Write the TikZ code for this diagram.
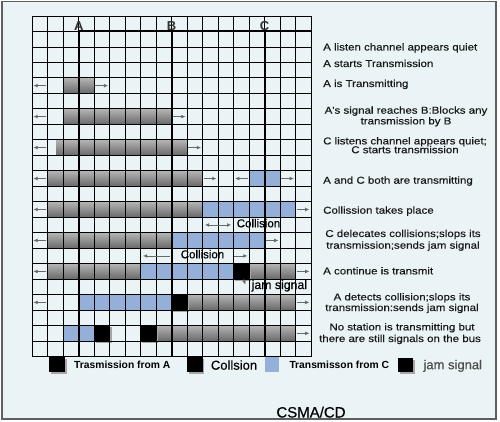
\documentclass[tikz,border=0pt]{standalone}
\usepackage{fontspec}
\setmainfont{Liberation Sans}
\newfontfamily\stretchfont{Liberation Sans}[FakeStretch=1.15,FakeBold=0.35]
\newfontfamily\heavyfont{Liberation Sans}[FakeBold=0.35]
\usetikzlibrary{arrows.meta}
\definecolor{bgc}{RGB}{234,243,246}
\definecolor{blu}{RGB}{148,176,217}
\definecolor{arr}{RGB}{105,105,105}
\definecolor{framec}{RGB}{95,95,95}
\definecolor{gtop}{RGB}{180,180,180}
\definecolor{gbot}{RGB}{105,105,105}
\tikzset{
  cellline/.style={black, line width=0.85pt},
  busline/.style={black, line width=2pt},
  graybar/.style={top color=gtop, bottom color=gbot, draw=none},
  bluebar/.style={fill=blu, draw=white, line width=0.8pt},
  jambox/.style={fill=black},
  jamshadow/.style={fill=black!35, draw=none},
  sarrow/.style={arr, line width=0.75pt, -{Latex[length=4.2pt,width=3.8pt]}},
  darrow/.style={arr, line width=0.75pt, {Latex[length=4.2pt,width=3.8pt]}-{Latex[length=4.2pt,width=3.8pt]}},
  desc/.style={font=\stretchfont\fontsize{10}{12}\selectfont, inner sep=0pt, anchor=base west, text=black!90},
  descc/.style={desc, anchor=base},
  station/.style={font=\bfseries\fontsize{13}{13}\selectfont, inner sep=0pt, anchor=base, text=black!80},
  collab/.style={font=\heavyfont\fontsize{11.5}{12}\selectfont, inner sep=0pt, anchor=base},
  legbold/.style={font=\bfseries\fontsize{10.3}{12}\selectfont, inner sep=0pt, anchor=base west},
  legreg/.style={font=\heavyfont\fontsize{13}{14}\selectfont, inner sep=0pt, anchor=base west},
}
\begin{document}
\begin{tikzpicture}[x=1pt, y=-1pt]
\useasboundingbox (0,0) rectangle (500,422);
\fill[white] (0,0) rectangle (500,422);
\draw[framec, line width=1.3pt, fill=bgc] (2,1.5) rectangle (496,419);

\begin{scope}[shift={(32.3pt,-16pt)}, x=15.48pt, y=-15.48pt]
  % bars
  \shade[graybar] (2,4) rectangle (4,5);
  \shade[graybar] (2,6) rectangle (9,7);
  \shade[graybar] (1.55,8) rectangle (10,9);
  \shade[graybar] (1,10) rectangle (11,11);
  \fill[bluebar] (14,10) rectangle (16,11);
  \shade[graybar] (1,12) rectangle (11,13);
  \fill[bluebar] (11,12) rectangle (17,13);
  \shade[graybar] (1,14) rectangle (9,15);
  \fill[bluebar] (9,14) rectangle (15,15);
  \shade[graybar] (1,16) rectangle (7,17);
  \fill[bluebar] (7,16) rectangle (13,17);
  \shade[graybar] (14,16) rectangle (17,17);
  \fill[jamshadow] (13.1,16.1) rectangle (14.12,17.12);
  \fill[jambox] (13,16) rectangle (14,17);
  \fill[bluebar] (3,18) rectangle (9,19);
  \shade[graybar] (10,18) rectangle (17,19);
  \fill[jamshadow] (9.1,18.1) rectangle (10.12,19.12);
  \fill[jambox] (9,18) rectangle (10,19);
  \fill[bluebar] (2,20) rectangle (4,21);
  \shade[graybar] (8,20) rectangle (17,21);
  \fill[jamshadow] (4.1,20.1) rectangle (5.12,21.12);
  \fill[jambox] (4,20) rectangle (5,21);
  \fill[jamshadow] (7.1,20.1) rectangle (8.12,21.12);
  \fill[jambox] (7,20) rectangle (8,21);
  % grid
  \foreach \i in {0,...,18} \draw[cellline] (\i,0) -- (\i,22);
  \foreach \j in {0,...,22} \draw[cellline] (0,\j) -- (18,\j);
  % bus and stations
  \draw[busline] (3,1) -- (18,1);
  \draw[busline] (3,1) -- (3,22);
  \draw[busline] (9,1) -- (9,22);
  \draw[busline] (15,1) -- (15,22);
  \node[station] (sA) at (3,1) [yshift=0.8pt] {A};
  \node[station] (sB) at (9,1) [yshift=0.8pt] {B};
  \node[station] (sC) at (15,1) [yshift=0.8pt] {C};
  % left arrows
  \foreach \r in {4,6,8,10,12,14,16,18}
    \draw[sarrow] (0.9,\r+0.5) -- (0.07,\r+0.5);
  % right arrows
  \draw[sarrow] (4.07,4.5) -- (4.9,4.5);
  \draw[sarrow] (9.07,6.5) -- (9.9,6.5);
  \draw[sarrow] (10.07,8.5) -- (10.9,8.5);
  \draw[sarrow] (11.07,10.5) -- (11.9,10.5);
  \draw[sarrow] (13.93,10.5) -- (13.1,10.5);
  \draw[sarrow] (16.07,10.5) -- (16.9,10.5);
  \draw[sarrow] (17.07,12.5) -- (17.9,12.5);
  \draw[darrow] (11.15,13.5) -- (12.85,13.5);
  \draw[sarrow] (15.07,14.5) -- (15.9,14.5);
  \draw[sarrow] (8.9,15.5) -- (7.15,15.5);
  \draw[sarrow] (13.05,15.5) -- (13.9,15.5);
  \draw[sarrow] (17.07,16.5) -- (17.9,16.5);
  \draw[sarrow] (17.07,18.5) -- (17.9,18.5);
  \draw[sarrow] (17.07,20.5) -- (17.9,20.5);
  % legend squares
  \fill[jamshadow] (1.2,22.15) rectangle (2.22,23.1);
  \fill[jambox] (1.1,22.05) rectangle (2.1,23);
  \fill[jamshadow] (10.1,22.15) rectangle (11.12,23.1);
  \fill[jambox] (10,22.05) rectangle (11,23);
  \fill[blu] (15,22.05) rectangle (15.95,23);
\end{scope}

% collision / jam labels inside the grid
\node[collab] (col1) at (258.5,227.3) {Collision};
\node[collab] (col2) at (202.5,258.3) {Collision};
\draw[sarrow] (243.5,279.5) -- (245.5,284.5);
\node[font=\heavyfont\fontsize{12.3}{13}\selectfont, inner sep=0pt, anchor=base west] (jam1) at (251.5,289) {jam signal};

% description texts
\node[desc] (d1) at (323,50.5) {A listen channel appears quiet};
\node[desc] (d2) at (323,67) {A starts Transmission};
\node[desc] (d3) at (323,87) {A is Transmitting};
\node[descc] (d4a) at (406,113.7) {A's signal reaches B:Blocks any};
\node[descc] (d4b) at (406,124.4) {transmission by B};
\node[descc] (d5a) at (405,144.4) {C listens channel appears quiet;};
\node[descc] (d5b) at (405,153.2) {C starts transmission};
\node[desc] (d6) at (323,183.7) {A and C both are transmitting};
\node[desc] (d7) at (323,213.7) {Collission takes place};
\node[descc] (d8a) at (403,237) {C delecates collisions;slops its};
\node[descc] (d8b) at (403,248.7) {transmission;sends jam signal};
\node[desc] (d9) at (323,274.4) {A continue is transmit};
\node[descc] (d10a) at (402,300.4) {A detects collision;slops its};
\node[descc] (d10b) at (402,311) {transmission:sends jam signal};
\node[descc] (d11a) at (402,330.4) {No station is transmitting but};
\node[descc] (d11b) at (400,342) {there are still signals on the bus};

% legend
\fill[jamshadow] (400,359.5) rectangle (415,373.5);
\fill[jambox] (398.3,358) rectangle (413.3,372);
\node[legbold] (lg1) at (74,368.7) {Trasmission from A};
\node[legreg] (lg2) at (210.7,369.7) {Collsion};
\node[legbold] (lg3) at (289.3,368.7) {Transmisson from C};
\node[legreg, text=black!70] (lg4) at (423.3,369.2) {jam signal};

\node[font=\heavyfont\fontsize{15}{16}\selectfont, inner sep=0pt, anchor=base] (title) at (311,417.5) {CSMA/CD};
\end{tikzpicture}
\end{document}
